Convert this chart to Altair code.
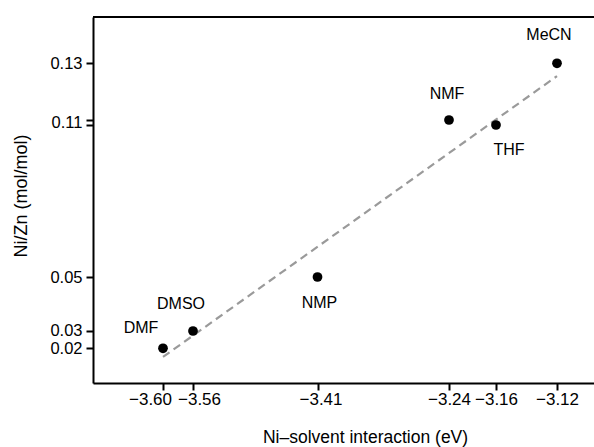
import altair as alt
import pandas as pd

solvents = ["DMF", "DMSO", "NMP", "NMF", "THF", "MeCN"]
interaction = [-3.60, -3.56, -3.41, -3.24, -3.16, -3.12]
ni_zn = [0.02, 0.03, 0.05, 0.11, 0.108, 0.13]

fit_x = [-3.60, -3.12]
fit_y = [0.015, 0.1255]

x_ticks = [-3.60, -3.56, -3.41, -3.24, -3.16, -3.12]
y_ticks = [0.02, 0.03, 0.05, 0.108, 0.11, 0.13]

df = pd.DataFrame({"solvent": solvents, "x": interaction, "y": ni_zn})
fit = pd.DataFrame({"x": fit_x, "y": fit_y})

W, H = 501, 366
FONT = "Liberation Sans"

# piecewise scales (the original figure's axes are not evenly spaced)
x_scale = alt.Scale(
    domain=[-3.6933, -3.60, -3.56, -3.41, -3.24, -3.16, -3.12, -3.0957],
    range=[0, 70, 100, 224.5, 356, 403, 464, W],
    zero=False, nice=False,
)
y_scale = alt.Scale(
    domain=[0.0, 0.02, 0.03, 0.05, 0.108, 0.11, 0.13, 0.1463],
    range=[H, 331.3, 314, 260, 108, 103, 46.3, 0],
    zero=False, nice=False,
)

x_label_offset = {
    "condition": [
        {"test": "abs(datum.value + 3.60) < 0.001", "value": -13},
        {"test": "abs(datum.value + 3.56) < 0.001", "value": 6},
        {"test": "abs(datum.value + 3.41) < 0.001", "value": 3},
    ],
    "value": 0,
}
y_label_offset = {
    "condition": [
        {"test": "abs(datum.value - 0.11) < 0.0001", "value": 2},
        {"test": "abs(datum.value - 0.03) < 0.0001", "value": -0.5},
        {"test": "abs(datum.value - 0.02) < 0.0001", "value": 0.5},
    ],
    "value": 0,
}

x_enc = alt.X(
    "x:Q", scale=x_scale,
    axis=alt.Axis(
        title="Ni–solvent interaction (eV)", values=x_ticks, grid=False,
        labelExpr="replace(format(datum.value, '.2f'), '-', '–')",
        labelOffset=x_label_offset,
        domainColor="black", domainWidth=2, tickColor="black", tickWidth=2,
        tickSize=7, labelPadding=1, labelFontSize=17, labelFont=FONT,
        labelColor="black", titleFont=FONT, titleFontSize=17.5,
        titleFontWeight="normal", titleColor="black", titleY=54, titleX=272,
        titleBaseline="middle", labelFlush=False, labelOverlap=False,
    ),
)
y_enc = alt.Y(
    "y:Q", scale=y_scale,
    axis=alt.Axis(
        title="Ni/Zn (mol/mol)", values=y_ticks, grid=False,
        labelExpr="datum.value == 0.108 ? '' : format(datum.value, '.2f')",
        labelOffset=y_label_offset,
        domainColor="black", domainWidth=2, tickColor="black", tickWidth=2,
        tickSize=7, labelPadding=4, labelFontSize=16.5, labelFont=FONT,
        labelColor="black", titleFont=FONT, titleFontSize=18,
        titleFontWeight="normal", titleColor="black", titleX=-72, titleY=178.5,
        titleBaseline="middle", labelFlush=False, labelOverlap=False,
    ),
)

line = alt.Chart(fit).mark_line(
    color="#9a9a9a", strokeWidth=2.2, strokeDash=[8, 5]
).encode(x=x_enc, y=y_enc)

points = alt.Chart(df).mark_circle(color="black", opacity=1, size=95).encode(
    x=alt.X("x:Q", scale=x_scale), y=alt.Y("y:Q", scale=y_scale)
)

offsets = {
    "MeCN": (-8, -28), "NMF": (-2, -26), "THF": (13, 25),
    "NMP": (2, 26), "DMSO": (-12, -27), "DMF": (-22, -20),
}
labels = []
for name, (dx, dy) in offsets.items():
    labels.append(
        alt.Chart(df).transform_filter(alt.datum.solvent == name)
        .mark_text(font=FONT, fontSize=16, color="black", dx=dx, dy=dy,
                   align="center", baseline="middle")
        .encode(x=alt.X("x:Q", scale=x_scale), y=alt.Y("y:Q", scale=y_scale),
                text="solvent:N")
    )

top_rule = alt.Chart(fit).mark_rule(color="black", strokeWidth=2).encode(
    x=alt.value(0), x2=alt.value(W + 5), y=alt.value(0)
)

chart = alt.layer(line, points, *labels, top_rule).properties(
    width=W, height=H,
    padding={"left": 93, "top": 17, "right": 0, "bottom": 64},
    autosize=alt.AutoSizeParams(type="none"),
).configure_view(stroke=None).configure(background="white")

chart.save("out.html", embed_options={"renderer": "svg", "actions": False})
